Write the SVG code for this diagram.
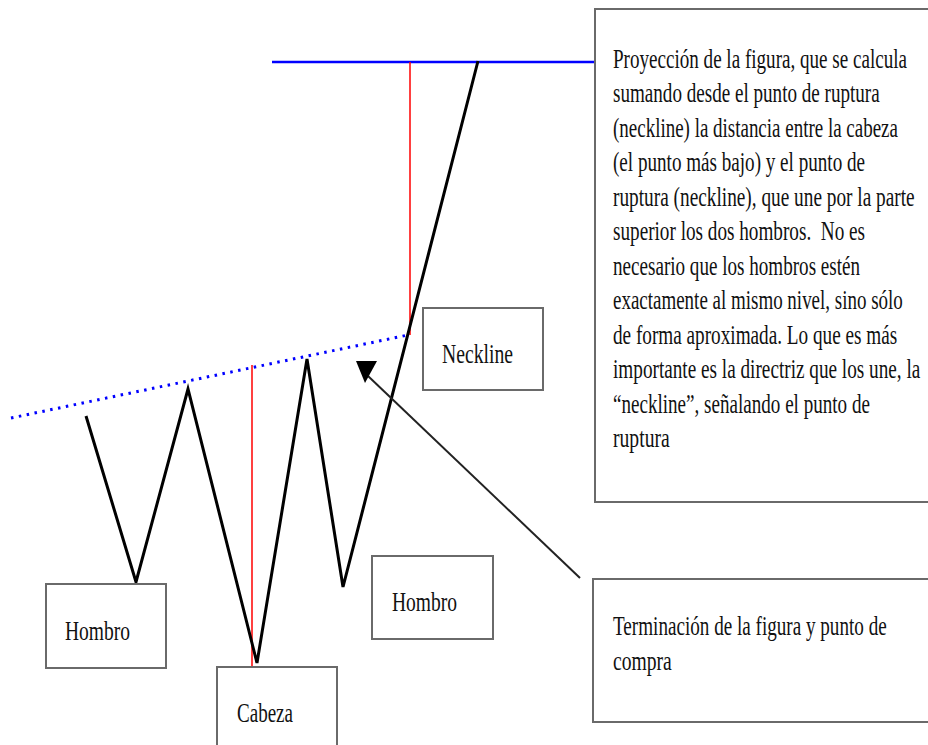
<svg xmlns="http://www.w3.org/2000/svg" width="928" height="745" viewBox="0 0 928 745">
<style>
.box{fill:#fff;stroke:#6a6a6a;stroke-width:2}
.open{fill:none;stroke:#6a6a6a;stroke-width:2}
.t{font-family:"Liberation Serif","Times New Roman",serif;font-size:27px;fill:#111}
.zig{fill:none;stroke:#000;stroke-width:3;stroke-linejoin:miter}
.red{stroke:#f00;stroke-width:1.5}
</style>
<rect width="928" height="745" fill="#fff"/>
<g id="connectors">
<line x1="272" y1="62" x2="596" y2="62" stroke="#0000ff" stroke-width="2.5"/>
<line x1="11" y1="418" x2="408" y2="335" stroke="#0000ff" stroke-width="3" stroke-dasharray="2.5 5.5"/>
<line class="red" x1="410" y1="62" x2="410" y2="335"/>
<line class="red" x1="252" y1="365" x2="252" y2="667"/>
<polyline class="zig" points="86,416 136,582 188,389 257,663 307,359 343,587 478,61"/>
<line x1="580" y1="578" x2="368" y2="376" stroke="#222" stroke-width="2"/>
<polygon points="356,361 377,361 365,383" fill="#000"/>
</g>
<g id="proyeccion">
<rect x="595" y="9" width="333" height="493" fill="#fff"/>
<path class="open" d="M928,9 H595 V502 H928"/>
<g transform="matrix(0.7,0,0,1,613,0)">
<text class="t" x="0" y="68" textLength="420" lengthAdjust="spacingAndGlyphs">Proyección de la figura, que se calcula</text>
<text class="t" x="0" y="102.5" textLength="381" lengthAdjust="spacingAndGlyphs">sumando desde el punto de ruptura</text>
<text class="t" x="0" y="137" textLength="407" lengthAdjust="spacingAndGlyphs">(neckline) la distancia entre la cabeza</text>
<text class="t" x="0" y="171.5" textLength="360" lengthAdjust="spacingAndGlyphs">(el punto más bajo) y el punto de</text>
<text class="t" x="0" y="206" textLength="431" lengthAdjust="spacingAndGlyphs">ruptura (neckline), que une por la parte</text>
<text class="t" x="0" y="240.5" textLength="360" lengthAdjust="spacingAndGlyphs" xml:space="preserve">superior los dos hombros.  No es</text>
<text class="t" x="0" y="275" textLength="353" lengthAdjust="spacingAndGlyphs">necesario que los hombros estén</text>
<text class="t" x="0" y="309.5" textLength="414" lengthAdjust="spacingAndGlyphs">exactamente al mismo nivel, sino sólo</text>
<text class="t" x="0" y="344" textLength="406" lengthAdjust="spacingAndGlyphs">de forma aproximada. Lo que es más</text>
<text class="t" x="0" y="378.5" textLength="439" lengthAdjust="spacingAndGlyphs">importante es la directriz que los une, la</text>
<text class="t" x="0" y="413" textLength="367" lengthAdjust="spacingAndGlyphs">“neckline”, señalando el punto de</text>
<text class="t" x="0" y="447.5" textLength="81" lengthAdjust="spacingAndGlyphs">ruptura</text>
</g>
</g>
<g id="neckline">
<rect class="box" x="423" y="308" width="120" height="82"/>
<text class="t" x="442" y="363" textLength="71" lengthAdjust="spacingAndGlyphs">Neckline</text>
</g>
<g id="hombro-izq">
<rect class="box" x="46" y="584" width="120" height="84"/>
<text class="t" x="65" y="640" textLength="65" lengthAdjust="spacingAndGlyphs">Hombro</text>
</g>
<g id="hombro-der">
<rect class="box" x="372" y="556" width="121" height="83"/>
<text class="t" x="392" y="611" textLength="65" lengthAdjust="spacingAndGlyphs">Hombro</text>
</g>
<g id="cabeza">
<rect x="217" y="667" width="120" height="78" fill="#fff"/>
<path class="open" d="M217,745 V667 H337 V745"/>
<text class="t" x="237" y="722" textLength="56" lengthAdjust="spacingAndGlyphs">Cabeza</text>
</g>
<g id="terminacion">
<rect x="593" y="579" width="335" height="143" fill="#fff"/>
<path class="open" d="M928,579 H593 V722 H928"/>
<g transform="matrix(0.7,0,0,1,613,0)">
<text class="t" x="0" y="635" textLength="391" lengthAdjust="spacingAndGlyphs">Terminación de la figura y punto de</text>
<text class="t" x="0" y="670" textLength="84" lengthAdjust="spacingAndGlyphs">compra</text>
</g>
</g>
</svg>
